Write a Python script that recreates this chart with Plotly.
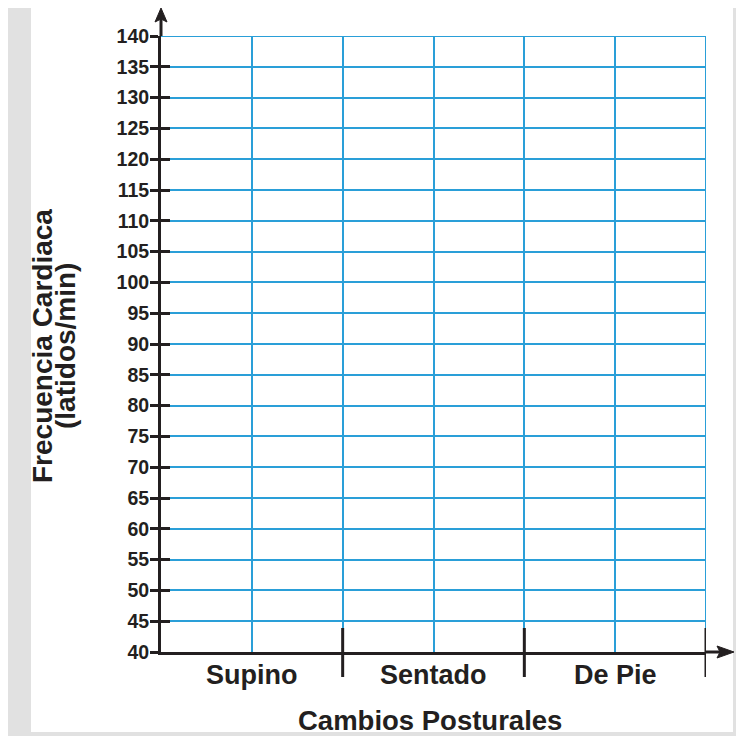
import plotly.graph_objects as go

# ---- data ----
categories = ["Supino", "Sentado", "De Pie"]
category_pos = [0.5, 1.5, 2.5]
boundaries = [1, 2, 3]
y_ticks = list(range(40, 145, 5))
x_title = "Cambios Posturales"
y_title_1 = "Frecuencia Cardiaca"
y_title_2 = "(latidos/min)"

# ---- layout geometry (figure pixels; page body adds an 8px offset) ----
W, H = 736, 728
L, R, T, B = 153, 698, 28, 644
BLUE = "#2a9fd8"
INK = "#231f20"
GRAY = "#e1e1e1"
FONT = "Liberation Sans, Arial, sans-serif"


def px(x):
    return (x - L) / (R - L)


def py(y):
    return (B - y) / (B - T)


fig = go.Figure()
fig.add_trace(go.Scatter(x=[], y=[], showlegend=False, hoverinfo="skip"))
fig.add_trace(go.Scatter(x=[], y=[], yaxis="y2", showlegend=False, hoverinfo="skip"))

shapes = []
# gray page bands
for x0, y0, x1, y1 in [(0, 0, 23, 728), (725, 0, 736, 728), (0, 724, 736, 728)]:
    shapes.append(dict(type="rect", xref="paper", yref="paper", x0=px(x0), x1=px(x1),
                       y0=py(y1), y1=py(y0), fillcolor=GRAY, line_width=0, layer="below"))
# edge grid lines (top and right)
shapes.append(dict(type="line", xref="x", yref="y", x0=0, x1=boundaries[-1],
                   y0=y_ticks[-1], y1=y_ticks[-1], line=dict(color=BLUE, width=2), layer="below"))
shapes.append(dict(type="line", xref="x", yref="y", x0=boundaries[-1], x1=boundaries[-1],
                   y0=y_ticks[0], y1=y_ticks[-1], line=dict(color=BLUE, width=2), layer="below"))
# axis extensions
shapes.append(dict(type="line", xref="paper", yref="paper", x0=0, x1=0, y0=1, y1=py(9),
                   line=dict(color=INK, width=3)))
shapes.append(dict(type="line", xref="paper", yref="paper", x0=1, x1=px(712), y0=0, y1=0,
                   line=dict(color=INK, width=3)))
# arrowheads
shapes.append(dict(type="path", xref="paper", yref="paper",
                   path=f"M {px(153)} {py(0)} L {px(159)} {py(14)} L {px(153)} {py(11)} L {px(147)} {py(14)} Z",
                   fillcolor=INK, line=dict(color=INK, width=1)))
shapes.append(dict(type="path", xref="paper", yref="paper",
                   path=f"M {px(726)} {py(644)} L {px(709)} {py(638)} L {px(712)} {py(644)} L {px(709)} {py(650)} Z",
                   fillcolor=INK, line=dict(color=INK, width=1)))
# category separators
for b in boundaries:
    shapes.append(dict(type="line", xref="x", yref="paper", x0=b, x1=b,
                       y0=py(669), y1=py(620), line=dict(color=INK, width=3)))

annotations = [
    dict(text=f"<b>{y_title_1}</b>", xref="paper", yref="paper", x=px(34), y=py(338),
         textangle=-90, showarrow=False, xanchor="center", yanchor="middle",
         font=dict(family=FONT, size=28, color=INK)),
    dict(text=f"<b>{y_title_2}</b>", xref="paper", yref="paper", x=px(57), y=py(338),
         textangle=-90, showarrow=False, xanchor="center", yanchor="middle",
         font=dict(family=FONT, size=28, color=INK)),
    dict(text=f"<b>{x_title}</b>", xref="paper", yref="paper", x=px(422), y=py(713),
         showarrow=False, xanchor="center", yanchor="middle",
         font=dict(family=FONT, size=27.5, color=INK)),
]
for pos, cat in zip(category_pos, categories):
    annotations.append(dict(text=f"<b>{cat}</b>", xref="x", yref="paper", x=pos, y=py(667),
                            showarrow=False, xanchor="center", yanchor="middle",
                            font=dict(family=FONT, size=27, color=INK)))

fig.update_layout(
    width=W, height=H,
    margin=dict(l=L, r=W - R, t=T, b=H - B, pad=0),
    paper_bgcolor="white", plot_bgcolor="white",
    showlegend=False,
    shapes=shapes, annotations=annotations,
    xaxis=dict(range=[0, 3], tickmode="array", tickvals=category_pos, ticktext=categories,
               ticks="", showticklabels=False, showline=True, linecolor=INK, linewidth=3,
               showgrid=True, gridcolor=BLUE, gridwidth=2, zeroline=False,
               minor=dict(tickmode="array", tickvals=boundaries, showgrid=True,
                          gridcolor=BLUE, gridwidth=2, ticks=""),
               fixedrange=True),
    yaxis=dict(range=[40, 140], tickmode="array", tickvals=y_ticks,
               ticks="outside", ticklen=8, tickwidth=3, tickcolor=INK,
               showline=True, linecolor=INK, linewidth=3,
               showgrid=True, gridcolor=BLUE, gridwidth=2, zeroline=False,
               tickfont=dict(family=FONT, size=19.5, color=INK, weight="bold"),
               ticklabelstandoff=-3, fixedrange=True),
    yaxis2=dict(range=[40, 140], overlaying="y", side="left", tickmode="array",
                tickvals=y_ticks, ticks="inside", ticklen=9, tickwidth=3, tickcolor=INK,
                showticklabels=False, showgrid=False, zeroline=False, showline=False,
                fixedrange=True),
)

fig.write_html("out.html")
